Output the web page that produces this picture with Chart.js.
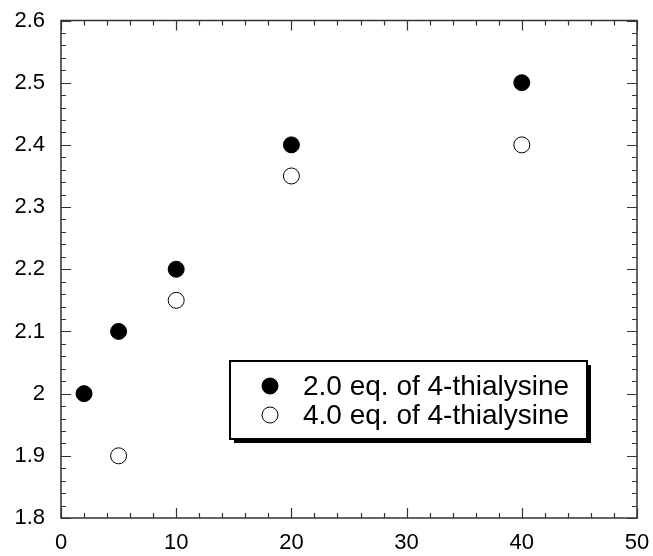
<!DOCTYPE html>
<html>
<head>
<meta charset="utf-8">
<script src="https://cdn.jsdelivr.net/npm/chart.js@4/dist/chart.umd.min.js"></script>
<style>
  html, body { margin: 0; padding: 0; background: #fff; }
  canvas { display: block; }
</style>
</head>
<body>
<canvas id="chart" width="653" height="556"></canvas>
<script>
// data
const xTwoEq = [2, 5, 10, 20, 40]
const yTwoEq = [2.0, 2.1, 2.2, 2.4, 2.5]
const xFourEq = [5, 10, 20, 40]
const yFourEq = [1.9, 2.15, 2.35, 2.4]
const seriesLabels = ['2.0 eq. of 4-thialysine', '4.0 eq. of 4-thialysine']

const xTicks = [0, 10, 20, 30, 40, 50]
const xTickLabels = ['0', '10', '20', '30', '40', '50']
const yTicks = [1.8, 1.9, 2.0, 2.1, 2.2, 2.3, 2.4, 2.5, 2.6]
const yTickLabels = ['1.8', '1.9', '2', '2.1', '2.2', '2.3', '2.4', '2.5', '2.6']

const FONT = "'Liberation Sans', Arial, Helvetica, sans-serif"

// labels may hang over the plot edge, don't let them shrink the plot
function noLabelPadding(s) {
  s.paddingTop = 0
  s.paddingBottom = 0
  s.paddingLeft = 0
  s.paddingRight = 0
}

// frame + inward ticks on all four sides
const framePlugin = {
  id: 'frame',
  afterDraw(chart) {
    const { ctx, chartArea: a, scales } = chart
    const x = scales.x, y = scales.y
    ctx.save()
    ctx.strokeStyle = '#333'
    ctx.lineWidth = 1.2
    ctx.beginPath()
    // x ticks, minor every 2
    for (let v = x.min; v <= x.max + 1e-9; v += 2) {
      const px = Math.round(x.getPixelForValue(v)) + 0.5
      const len = Math.abs(v % 10) < 1e-9 ? 10 : 5
      ctx.moveTo(px, a.bottom); ctx.lineTo(px, a.bottom - len)
      ctx.moveTo(px, a.top); ctx.lineTo(px, a.top + len)
    }
    // y ticks, minor every 0.02
    for (let i = 0; i <= 40; i++) {
      const v = y.min + i * 0.02
      const py = Math.round(y.getPixelForValue(v)) + 0.5
      const len = i % 5 === 0 ? 10 : 5
      ctx.moveTo(a.left, py); ctx.lineTo(a.left + len, py)
      ctx.moveTo(a.right, py); ctx.lineTo(a.right - len, py)
    }
    ctx.stroke()
    ctx.lineWidth = 1.5
    ctx.strokeRect(a.left, a.top, a.right - a.left, a.bottom - a.top)
    ctx.restore()
  }
}

// boxed legend with drop shadow inside the plot
const boxLegendPlugin = {
  id: 'boxLegend',
  afterDraw(chart) {
    const { ctx } = chart
    const bx = 230, by = 361, bw = 357, bh = 78
    ctx.save()
    ctx.fillStyle = '#000'
    ctx.fillRect(bx + 4, by + 4, bw, bh)
    ctx.fillStyle = '#fff'
    ctx.fillRect(bx, by, bw, bh)
    ctx.strokeStyle = '#000'
    ctx.lineWidth = 2
    ctx.strokeRect(bx, by, bw, bh)

    ctx.font = '28px ' + FONT
    ctx.textBaseline = 'middle'
    ctx.textAlign = 'left'
    chart.data.datasets.forEach((ds, i) => {
      const cy = by + 25 + i * 29
      ctx.beginPath()
      ctx.arc(270, cy, 8, 0, Math.PI * 2)
      ctx.fillStyle = ds.backgroundColor
      ctx.fill()
      ctx.lineWidth = 1
      ctx.strokeStyle = '#000'
      ctx.stroke()
      ctx.fillStyle = '#000'
      ctx.fillText(ds.label, 303, cy + 1)
    })
    ctx.restore()
  }
}

new Chart(document.getElementById('chart'), {
  type: 'scatter',
  data: {
    datasets: [
      {
        label: seriesLabels[0],
        data: xTwoEq.map((x, i) => ({ x, y: yTwoEq[i] })),
        backgroundColor: '#000',
        borderColor: '#000',
        borderWidth: 1,
        pointRadius: 8
      },
      {
        label: seriesLabels[1],
        data: xFourEq.map((x, i) => ({ x, y: yFourEq[i] })),
        backgroundColor: '#fff',
        borderColor: '#000',
        borderWidth: 1,
        pointRadius: 8
      }
    ]
  },
  options: {
    responsive: false,
    animation: false,
    layout: { padding: { top: 20.5, right: 16, left: 0, bottom: 0 } },
    plugins: {
      legend: { display: false },
      tooltip: { enabled: false }
    },
    scales: {
      x: {
        type: 'linear',
        min: 0,
        max: 50,
        afterBuildTicks: s => { s.ticks = xTicks.map(v => ({ value: v })) },
        afterFit: s => { s.height = 38; noLabelPadding(s) },
        ticks: {
          callback: (v, i) => xTickLabels[i],
          color: '#000',
          font: { family: FONT, size: 22 },
          padding: 12,
          maxRotation: 0,
          autoSkip: false
        },
        grid: { display: false, drawTicks: false },
        border: { display: false }
      },
      y: {
        type: 'linear',
        min: 1.8,
        max: 2.6,
        afterBuildTicks: s => { s.ticks = yTicks.map(v => ({ value: v })) },
        afterFit: s => { s.width = 61; noLabelPadding(s) },
        ticks: {
          callback: (v, i) => yTickLabels[i],
          color: '#000',
          font: { family: FONT, size: 22 },
          padding: 16,
          autoSkip: false
        },
        grid: { display: false, drawTicks: false },
        border: { display: false }
      }
    }
  },
  plugins: [framePlugin, boxLegendPlugin]
})
</script>
</body>
</html>
